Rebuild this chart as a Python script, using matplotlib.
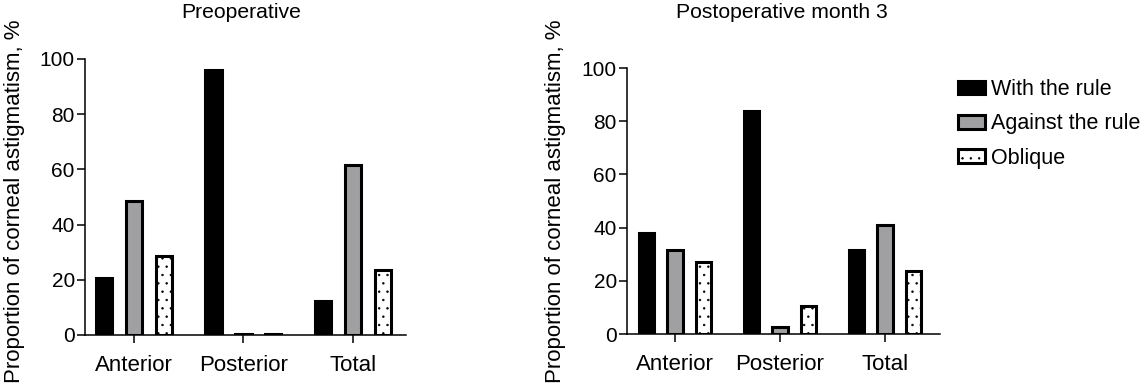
import numpy as np
import matplotlib
matplotlib.use('Agg')
import matplotlib.pyplot as plt

#%% Data

groups = ['Anterior', 'Posterior', 'Total']
series_names = ['With the rule', 'Against the rule', 'Oblique']

# Preoperative
pre_with = [20.5, 96, 12.5]
pre_against = [48.4, 0.3, 61.5]
pre_oblique = [28.7, 0.3, 23.7]

# Postoperative month 3
post_with = [38, 84, 31.5]
post_against = [31.5, 2.5, 41]
post_oblique = [27, 10.5, 23.5]

yticks = [0, 20, 40, 60, 80, 100]
ylabel = 'Proportion of corneal astigmatism, %'

#%% General style

plt.rcParams['font.family'] = ['Liberation Sans', 'DejaVu Sans']
plt.rcParams['hatch.linewidth'] = 0.5

fig = plt.figure(figsize=(11.47, 3.86), dpi=100)

bar_width = 0.15
offset = 0.272
border = 2.2
gray = '#a0a0a3'


def draw_panel(ax, with_vals, against_vals, oblique_vals, xlim):
    x = np.arange(len(groups))
    ax.bar(x - offset, with_vals, bar_width, color='black', edgecolor='black',
           linewidth=border, label=series_names[0])
    ax.bar(x, against_vals, bar_width, color=gray, edgecolor='black',
           linewidth=border, label=series_names[1])
    ax.bar(x + offset, oblique_vals, bar_width, color='white', edgecolor='black',
           linewidth=border, hatch='..', label=series_names[2])
    ax.set_xlim(xlim)
    ax.set_ylim(0, 100)
    ax.set_yticks(yticks)
    ax.set_xticks(x)
    ax.set_xticklabels(groups, fontsize=16)
    for s in ['top', 'right']:
        ax.spines[s].set_visible(False)
    for s in ['left', 'bottom']:
        ax.spines[s].set_linewidth(1.1)
    ax.tick_params(axis='y', length=5.8, width=1.1, labelsize=15, pad=1.5)
    ax.tick_params(axis='x', length=5.8, width=1.1, pad=8.5)
    ax.patch.set_alpha(0)


#%% Left panel

ax1 = fig.add_axes([85/1147, 51/386, 321/1147, 276/386])
draw_panel(ax1, pre_with, pre_against, pre_oblique, (-0.447, 2.484))
fig.text(241/1147, 1 - 12/386, 'Preoperative', fontsize=15.2, ha='center', va='center')
fig.text(15/1147, 1 - 201/386, ylabel, fontsize=16, rotation=90, ha='center', va='center')

#%% Right panel

ax2 = fig.add_axes([627/1147, 52/386, 313/1147, 266/386])
draw_panel(ax2, post_with, post_against, post_oblique, (-0.457, 2.524))
fig.text(782/1147, 1 - 12/386, 'Postoperative month 3', fontsize=15.2, ha='center', va='center')
fig.text(556/1147, 1 - 201/386, ylabel, fontsize=16, rotation=90, ha='center', va='center')

#%% Legend

handles, labels = ax2.get_legend_handles_labels()
fig.legend(handles, labels, loc='upper left', bbox_to_anchor=(958/1147, 1 - 79/386),
           frameon=False, fontsize=15.5, handlelength=1.25, handleheight=0.6,
           handletextpad=0.3, labelspacing=0.62, borderpad=0, borderaxespad=0)

fig.savefig('out.png', dpi=100)
